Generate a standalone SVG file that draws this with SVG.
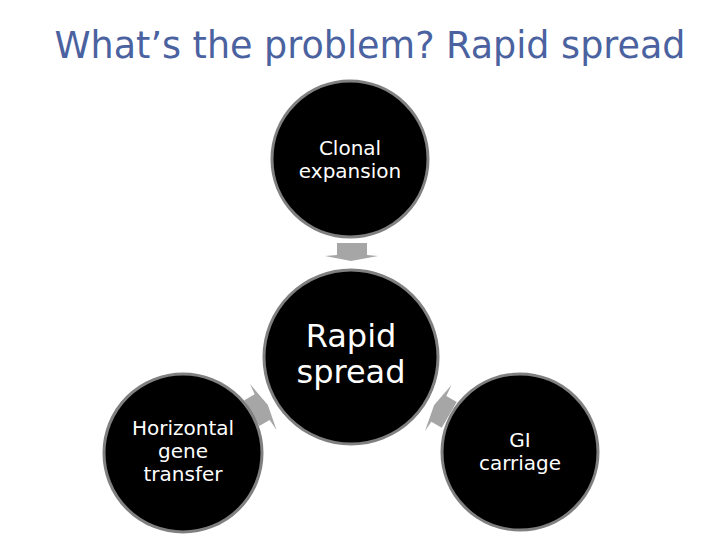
<svg xmlns="http://www.w3.org/2000/svg" width="720" height="540" viewBox="0 0 720 540">
  <defs>
    <style>
      .node { fill: #000000; stroke: #808080; stroke-width: 3; }
      .lbl { font-family: "DejaVu Sans", Verdana, sans-serif; fill: #ffffff; text-anchor: middle; }
      .arrow { fill: #a6a6a6; }
      .title { font-family: "DejaVu Sans", Verdana, sans-serif; fill: #4b62a0; font-size: 36.5px; text-anchor: middle; }
    </style>
    <polygon id="arr" points="337,243 367,243 367,255 378,256 351,261 325,256 337,255"/>
  </defs>
  <rect width="720" height="540" fill="#ffffff"/>
  <text class="title" x="370" y="58">What’s the problem? Rapid spread</text>

  <g id="connectors">
    <use href="#arr" class="arrow"/>
    <use href="#arr" class="arrow" transform="rotate(-120 351 357)"/>
    <use href="#arr" class="arrow" transform="rotate(120 351 357)"/>
  </g>

  <g id="clonal">
    <circle class="node" cx="350" cy="159" r="78"/>
    <text class="lbl" font-size="20" x="350" y="155">Clonal</text>
    <text class="lbl" font-size="20" x="350" y="178">expansion</text>
  </g>
  <g id="rapid">
    <circle class="node" cx="351" cy="357" r="87"/>
    <text class="lbl" font-size="32" x="351" y="347">Rapid</text>
    <text class="lbl" font-size="32" x="351" y="383">spread</text>
  </g>
  <g id="hgt">
    <circle class="node" cx="183" cy="453" r="79"/>
    <text class="lbl" font-size="20" x="183" y="435">Horizontal</text>
    <text class="lbl" font-size="20" x="183" y="458">gene</text>
    <text class="lbl" font-size="20" x="183" y="481">transfer</text>
  </g>
  <g id="gi">
    <circle class="node" cx="520" cy="452" r="78"/>
    <text class="lbl" font-size="20" x="520" y="447">GI</text>
    <text class="lbl" font-size="20" x="520" y="470">carriage</text>
  </g>
</svg>
